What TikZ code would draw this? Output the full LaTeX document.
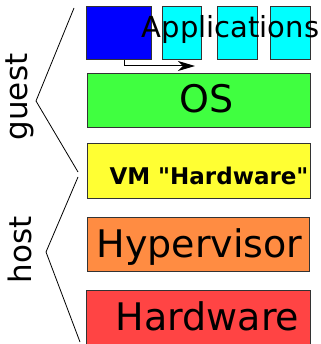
\documentclass[tikz,border=0pt]{standalone}
\usepackage{fontspec}
\setmainfont{DejaVu Sans}[Ligatures=TeXOff]
\usetikzlibrary{arrows.meta}
\definecolor{appblue}{HTML}{0000FF}
\definecolor{appcyan}{HTML}{00FFFF}
\definecolor{osgreen}{HTML}{40FF40}
\definecolor{vmyellow}{HTML}{FFFF33}
\definecolor{hvorange}{HTML}{FF8C42}
\definecolor{hwred}{HTML}{FF4444}
\begin{document}
\begin{tikzpicture}[x=1pt,y=-1pt,
  layerbox/.style={draw=black!80, line width=1pt, anchor=north west, inner sep=0pt},
  layertext/.style={inner sep=0pt, anchor=base},
  sidetext/.style={inner sep=0pt, rotate=90, font=\fontsize{31}{31}\selectfont},
  bracket/.style={draw=black, line width=0.8pt},
  flow/.style={draw=black, line width=1pt, -{Stealth[length=17pt,width=10pt,inset=5pt]}}]
\useasboundingbox (0,0) rectangle (320,344);

% application boxes
\node[layerbox, fill=appblue, minimum width=65pt, minimum height=53pt] (app1) at (86,6) {};
\node[layerbox, fill=appcyan, minimum width=39pt, minimum height=53pt] (app2) at (162,6) {};
\node[layerbox, fill=appcyan, minimum width=40pt, minimum height=53pt] (app3) at (217,6) {};
\node[layerbox, fill=appcyan, minimum width=40pt, minimum height=53pt] (app4) at (270,6) {};

% stack layers
\node[layerbox, fill=osgreen, minimum width=223pt, minimum height=54pt] (os) at (87,73) {};
\node[layerbox, fill=vmyellow, minimum width=223pt, minimum height=55pt] (vm) at (87,143) {};
\node[layerbox, fill=hvorange, minimum width=222pt, minimum height=54pt] (hyp) at (87,217) {};
\node[layerbox, fill=hwred, minimum width=224pt, minimum height=60pt] (hw) at (86,290) {};

% layer captions
\node[layertext, font=\fontsize{29}{29}\selectfont] (appstext) at (230.5,38) {Applications};
\node[layertext, font=\fontsize{38}{38}\selectfont] (ostext) at (207,113) {OS};
\node[layertext, font=\fontsize{23}{23}\selectfont\bfseries] (vmtext) at (209,185) {VM "Hardware"};
\node[layertext, font=\fontsize{38}{38}\selectfont] (hyptext) at (199.5,257) {Hypervisor};
\node[layertext, font=\fontsize{38}{38}\selectfont] (hwtext) at (207.5,330) {Hardware};

% arrow out of the first application
\coordinate (apptarget) at (195,66);
\draw[flow] ([xshift=5.5pt]app1.south) |- (apptarget);

% guest / host brackets
\coordinate (g1) at (74,8);
\coordinate (g2) at (36,101);
\coordinate (g3) at (78,172);
\draw[bracket] (g1) -- (g2) -- (g3);
\coordinate (h1) at (78,177);
\coordinate (h2) at (46,252);
\coordinate (h3) at (80,342);
\draw[bracket] (h1) -- (h2) -- (h3);

\node[sidetext] (guest) at (20,97) {guest};
\node[sidetext] (host) at (20,250) {host};
\end{tikzpicture}
\end{document}
